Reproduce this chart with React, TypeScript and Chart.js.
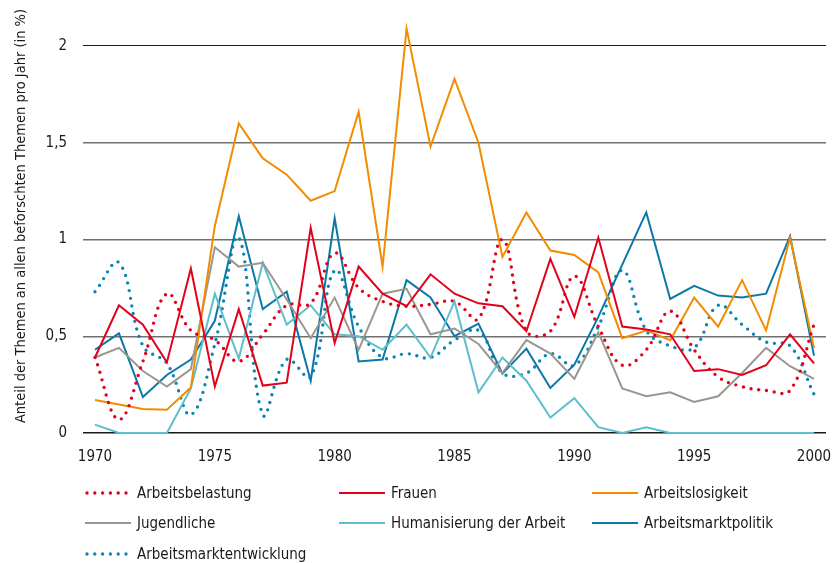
import React, { useEffect, useRef } from 'react';
import { Chart, registerables } from 'chart.js';

Chart.register(...registerables);

const FONT = "'Liberation Sans Narrow', 'DejaVu Sans Condensed', 'Arial Narrow', sans-serif";

const years = [
  '1970', '1971', '1972', '1973', '1974', '1975', '1976', '1977', '1978', '1979',
  '1980', '1981', '1982', '1983', '1984', '1985', '1986', '1987', '1988', '1989',
  '1990', '1991', '1992', '1993', '1994', '1995', '1996', '1997', '1998', '1999', '2000',
];

const arbeitsbelastung = [
  0.39, 0.07, 0.37, 0.72, 0.53, 0.48, 0.37, 0.51, 0.66, 0.67,
  0.93, 0.75, 0.68, 0.655, 0.665, 0.68, 0.59, 1.0, 0.526, 0.526,
  0.81, 0.55, 0.35, 0.43, 0.63, 0.43, 0.29, 0.24, 0.22, 0.22, 0.56,
];
const frauen = [
  0.39, 0.66, 0.56, 0.365, 0.85, 0.24, 0.64, 0.245, 0.26, 1.06,
  0.465, 0.86, 0.72, 0.655, 0.82, 0.72, 0.67, 0.655, 0.526, 0.9,
  0.6, 1.01, 0.55, 0.535, 0.51, 0.32, 0.33, 0.3, 0.35, 0.51, 0.36,
];
const arbeitslosigkeit = [
  0.17, 0.147, 0.124, 0.12, 0.235, 1.07, 1.6, 1.42, 1.335, 1.2,
  1.25, 1.66, 0.86, 2.09, 1.48, 1.83, 1.5, 0.91, 1.14, 0.943,
  0.92, 0.83, 0.49, 0.53, 0.48, 0.7, 0.55, 0.79, 0.53, 1.01, 0.44,
];
const jugendliche = [
  0.39, 0.44, 0.32, 0.24, 0.33, 0.96, 0.86, 0.88, 0.69, 0.49,
  0.7, 0.43, 0.72, 0.745, 0.51, 0.54, 0.46, 0.31, 0.48, 0.41,
  0.28, 0.52, 0.23, 0.19, 0.21, 0.16, 0.19, 0.31, 0.44, 0.345, 0.28,
];
const humanisierung = [
  0.043, 0, 0, 0, 0.23, 0.72, 0.385, 0.88, 0.56, 0.66,
  0.51, 0.5, 0.43, 0.56, 0.39, 0.68, 0.21, 0.39, 0.27, 0.08,
  0.18, 0.03, 0, 0.03, 0, 0, 0, 0, 0, 0, 0,
];
const arbeitsmarktpolitik = [
  0.43, 0.515, 0.186, 0.3, 0.38, 0.58, 1.12, 0.64, 0.73, 0.27,
  1.11, 0.37, 0.38, 0.79, 0.7, 0.5, 0.565, 0.307, 0.436, 0.233,
  0.353, 0.6, 0.87, 1.14, 0.693, 0.76, 0.71, 0.7, 0.72, 1.017, 0.4,
];
const arbeitsmarktentwicklung = [
  0.73, 0.88, 0.45, 0.36, 0.095, 0.46, 1.01, 0.095, 0.38, 0.29,
  0.84, 0.55, 0.39, 0.41, 0.39, 0.48, 0.53, 0.31, 0.31, 0.41,
  0.35, 0.55, 0.84, 0.53, 0.45, 0.44, 0.66, 0.56, 0.47, 0.45, 0.2,
];

const yTitle = 'Anteil der Themen an allen beforschten Themen pro Jahr (in %)';

const RED = '#e2001a';
const ORANGE = '#f28c00';
const GRAY = '#9b968e';
const LIGHTBLUE = '#5ebfcc';
const BLUE = '#0b78a8';
const BLUEDOT = '#0a85b5';

const series = [
  { label: 'Arbeitsbelastung', data: arbeitsbelastung, color: RED, dotted: true },
  { label: 'Frauen', data: frauen, color: RED, dotted: false },
  { label: 'Arbeitslosigkeit', data: arbeitslosigkeit, color: ORANGE, dotted: false },
  { label: 'Jugendliche', data: jugendliche, color: GRAY, dotted: false },
  { label: 'Humanisierung der Arbeit', data: humanisierung, color: LIGHTBLUE, dotted: false },
  { label: 'Arbeitsmarktpolitik', data: arbeitsmarktpolitik, color: BLUE, dotted: false },
  { label: 'Arbeitsmarktentwicklung', data: arbeitsmarktentwicklung, color: BLUEDOT, dotted: true },
];

const LEGEND_COLS = [85, 339, 592];
const LEGEND_ROWS = [493, 523, 554];
const TEXT_COLOR = '#1a1a1a';
const FS = 15;

const titlePlugin = {
  id: 'yTitleDraw',
  afterDraw(chart: any) {
    const ctx = chart.ctx;
    ctx.save();
    ctx.translate(21, 216);
    ctx.rotate(-Math.PI / 2);
    ctx.font = `14.5px ${FONT}`;
    ctx.fillStyle = TEXT_COLOR;
    ctx.textAlign = 'center';
    ctx.textBaseline = 'middle';
    ctx.fillText(yTitle, 0, 0);
    ctx.restore();
  },
};

export default function App() {
  const canvasRef = useRef<HTMLCanvasElement | null>(null);

  useEffect(() => {
    if (!canvasRef.current) return;
    const chart = new Chart(canvasRef.current, {
      type: 'line',
      data: {
        labels: years,
        datasets: series.map((s) => ({
          label: s.label,
          data: s.data,
          borderColor: s.color,
          backgroundColor: s.color,
          borderWidth: s.dotted ? 3.4 : 2,
          borderDash: s.dotted ? [0, 7.8] : [],
          borderCapStyle: s.dotted ? 'round' : 'butt',
          borderJoinStyle: 'miter',
          tension: s.dotted ? 0.4 : 0,
          pointRadius: 0,
          pointHoverRadius: 0,
          fill: false,
          clip: false,
        })),
      },
      options: {
        animation: false,
        responsive: false,
        maintainAspectRatio: false,
        layout: { padding: { left: 0, right: 6, top: 46, bottom: 0 } },
        plugins: {
          legend: { display: false },
          tooltip: { enabled: false },
        },
        scales: {
          x: {
            type: 'category',
            offset: true,
            grid: { display: false, drawTicks: false },
            border: { display: false },
            ticks: {
              autoSkip: false,
              maxRotation: 0,
              minRotation: 0,
              padding: 15,
              color: TEXT_COLOR,
              font: { family: FONT, size: FS },
              callback: (_v: any, i: number) => (i % 5 === 0 ? years[i] : ''),
            },
            afterFit: (s: any) => {
              s.height = 130;
              s.paddingLeft = 0;
              s.paddingRight = 0;
            },
          },
          y: {
            min: 0,
            max: 2,
            afterBuildTicks: (s: any) => {
              s.ticks = [0, 0.5, 1, 1.5, 2].map((v) => ({ value: v }));
            },
            grid: {
              drawTicks: false,
              color: (c: any) => (c.tick && (c.tick.value === 0 || c.tick.value === 2) ? '#1a1a1a' : '#707070'),
              lineWidth: (c: any) => (c.tick && c.tick.value === 2 ? 1.1 : 1.5),
            },
            border: { display: false },
            ticks: {
              padding: 16,
              color: TEXT_COLOR,
              font: { family: FONT, size: FS },
              callback: (v: any) => String(v).replace('.', ','),
            },
            afterFit: (s: any) => {
              s.width = 83;
            },
          },
        },
      },
      plugins: [titlePlugin],
    } as any);
    return () => chart.destroy();
  }, []);

  return (
    <div style={{ position: 'absolute', left: 0, top: 0, width: 832, height: 563, background: '#fff', overflow: 'hidden' }}>
      <canvas ref={canvasRef} width={832} height={563} style={{ position: 'absolute', left: 0, top: 0, width: 832, height: 563 }} />
      {series.map((s, i) => {
        const left = LEGEND_COLS[i % 3];
        const top = LEGEND_ROWS[Math.floor(i / 3)];
        return (
          <div
            key={s.label}
            style={{
              position: 'absolute',
              left,
              top: top - 11,
              height: 22,
              display: 'flex',
              alignItems: 'center',
              fontFamily: FONT,
              fontSize: FS,
              color: TEXT_COLOR,
              whiteSpace: 'nowrap',
            }}
          >
            <svg width={47} height={8} style={{ display: 'block', marginRight: 5 }}>
              {s.dotted ? (
                <line x1={2} y1={4} x2={46} y2={4} stroke={s.color} strokeWidth={3.4} strokeDasharray="0 7.8" strokeLinecap="round" />
              ) : (
                <line x1={0} y1={4} x2={46} y2={4} stroke={s.color} strokeWidth={2} />
              )}
            </svg>
            <span>{s.label}</span>
          </div>
        );
      })}
    </div>
  );
}
